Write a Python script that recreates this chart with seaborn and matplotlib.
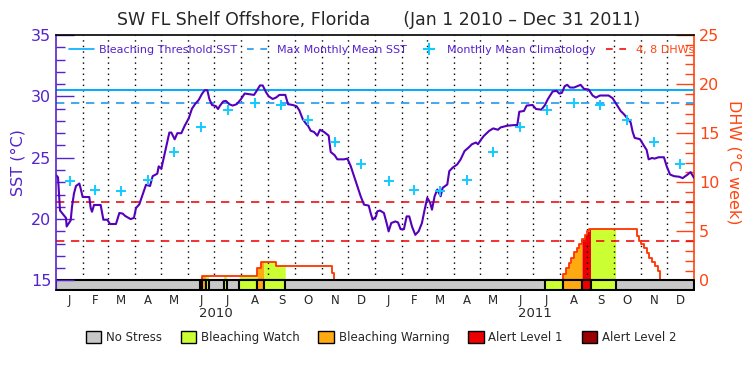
import matplotlib.pyplot as plt
from matplotlib.lines import Line2D
from matplotlib.patches import Patch
import seaborn as sns
import numpy as np
import pandas as pd

# days since Jan 1 2010 and daily SST (deg C)
sst_day = [0, 2.3, 4.6, 11.4, 12.2, 16.8, 18.3, 20.6, 22.9, 26.7, 28.2, 30.5, 38.1, 39.7, 41.2,
           43.5, 51.1, 54.2, 58.7, 61.8, 68.6, 72.5, 76.3, 79.3, 85.4, 89.2, 91.5, 95.3, 98.4,
           103, 107.6, 110.6, 115.9, 117.5, 120.5, 123.6, 127.4, 129.7, 132, 135.8, 138.8, 143.4,
           147.2, 151.8, 155.6, 159.4, 163.2, 167, 170.1, 173.2, 175.4, 178.5, 183,
           185.4, 187.7, 191.5, 194.5, 198.3, 202.2, 206.7, 211.3, 215.9, 221.2, 226.6, 229.6,
           233.4, 236.5, 240.3, 243.3, 247.9, 251.7, 255.6, 262.4, 265.5, 270.8, 275.4, 278.4,
           282.3, 286.1, 288.4, 291.4, 295.2, 299, 302.1, 306.7, 312, 314.3, 318.9, 321.9, 329.5,
           333.4, 337.2, 341, 344.8, 348.6, 352.4, 357.8, 360, 362.3, 366.2,
           367.6, 370.7, 375.2, 378.3, 380.6, 383.6, 388.2, 391.3, 394.3, 398.1, 401.2, 404.2,
           407.3, 411.1, 414.9, 418.7, 421.8, 424.8, 427.9, 430.2, 433.2, 436.3, 440.1, 442.4,
           447.7, 450, 453.8, 459.1, 463, 467.5, 472.1, 475.9, 480.5, 482.8, 486.6, 489.7, 495.8,
           500.3, 505.7, 508.7, 516.4, 524, 527.8, 530.1, 535.4, 538.5, 545.3, 549.2,
           555.3, 559.1, 562.9, 568.3, 572.8, 575.9, 578.9, 582, 585, 588.1, 592.7, 596.5, 600.3,
           604.1, 609.4, 614, 617.8, 622.4, 632.3, 636.9, 642.2, 646.1, 649.9, 653.7, 657.5,
           659.8, 662.1, 668.2, 672.8, 675.8, 678.1, 681.9, 685, 689.5, 695.6, 698.7, 702.5,
           707.1, 713.2, 717, 722.3, 726.1, 729.9]
sst_val = [23.6, 23.4, 20.7, 20.1, 19.4, 19.9, 21.0, 22.1, 22.7, 22.9, 22.5, 21.8, 21.8, 20.9, 20.6,
           21.15, 21.15, 19.95, 19.95, 19.6, 19.6, 20.5, 20.45, 20.25, 20.0, 20.1, 20.9, 21.2, 21.85,
           22.8, 22.7, 23.5, 23.7, 24.3, 24.1, 25.1, 26.3, 27.05, 27.05, 26.5, 27.0, 27.0,
           27.6, 28.2, 29.0, 29.4, 29.7, 30.2, 30.5, 30.5, 29.8, 29.3, 29.2,
           28.97, 29.25, 29.6, 29.63, 29.36, 29.25, 29.36, 29.74, 30.23, 30.18, 30.12, 30.45,
           30.89, 30.89, 30.34, 30.01, 29.79, 29.9, 30.12, 30.12, 29.36, 29.3, 29.19, 28.86,
           28.15, 27.77, 27.6, 27.2, 27.1, 26.8, 27.28, 27.1, 26.8, 25.47, 25.2, 24.87, 24.87,
           24.93, 24.32, 23.5, 22.68, 21.86, 21.18, 21.1, 20.5, 19.95, 20.22,
           20.63, 20.7, 20.5, 19.68, 19.0, 19.68, 19.81, 19.73, 19.18, 19.18, 20.22, 20.22,
           19.4, 18.72, 19.0, 19.68, 20.77, 21.73, 21.37, 20.77, 21.86, 22.41, 21.86, 22.55,
           22.82, 23.91, 24.19, 24.46, 24.87, 25.55, 25.83, 26.1, 26.24, 26.1, 26.51, 26.79, 27.2,
           27.39, 27.28, 27.47, 27.61, 27.66, 27.66, 28.75, 28.81, 29.25, 29.3, 28.97,
           28.92, 29.25, 29.79, 30.4, 30.45, 30.23, 30.29, 30.83, 30.94, 30.72, 30.72, 30.83, 30.94,
           30.61, 30.56, 30.07, 29.9, 30.07, 30.07, 29.85, 29.25, 28.81, 28.54, 28.21, 27.88,
           27.11, 26.62, 26.51, 25.97, 25.64, 24.87, 24.98, 24.93, 25.04, 25.04, 24.32, 23.64,
           23.5, 23.45, 23.34, 23.61, 23.83, 23.37]

# monthly mean climatology (same for both years)
clim_sst = [23.07, 22.37, 22.26, 23.2, 25.47, 27.47, 28.9, 29.43, 29.27, 28.07, 26.28, 24.49]
mmm = 29.5
threshold = 30.5
dhw_levels = [4, 8]

# degree heating weeks, step values starting at each day
dhw_day = [0, 167, 229.6, 234.2, 251.7, 315.3, 318.3,
           580.5, 583.5, 586.5, 589.6, 592.6, 595.7, 598.7, 601.8, 604.8, 607.9, 610.2,
           665.1, 667.4, 669.7, 672.7, 675.8, 678.8, 681.9, 684.9, 688.8, 691.1, 730]
dhw_val = [0, 0.48, 1.23, 1.9, 1.45, 0.75, 0,
           0.71, 1.3, 1.77, 2.32, 2.87, 3.35, 3.69, 4.23, 4.64, 4.99, 5.23,
           4.58, 4.03, 3.69, 3.28, 2.8, 2.32, 1.9, 1.5, 0.96, 0, 0]

# stress level periods (1 watch, 2 warning, 3 alert 1, 4 alert 2)
stress_start = [164.8, 167.0, 172.2, 192.2, 209.7, 230.3, 238.0, 559.9, 580.5, 601.8, 611.7]
stress_end = [167.0, 172.2, 174.7, 195.3, 230.3, 238.0, 262.4, 580.5, 601.8, 611.7, 640.7]
stress_level = [1, 2, 1, 1, 1, 2, 1, 1, 2, 3, 1]

stress_names = ['No Stress', 'Bleaching Watch', 'Bleaching Warning', 'Alert Level 1', 'Alert Level 2']
stress_colors = ['#c8c8c8', '#ccff33', '#ffaa11', '#ee0000', '#990000']

purple = '#5522cc'
orange = '#ff4411'

months = pd.date_range('2010-01-01', '2012-01-01', freq='MS')
month_day = np.array((months - months[0]).days)
month_mid = (month_day[:-1] + month_day[1:]) / 2
month_letters = [m.strftime('%b')[0] for m in months[:-1]]

sns.set_style('white')
plt.rcParams['font.family'] = ['DejaVu Sans']

fig = plt.figure(figsize=(7.5, 3.75), dpi=100)
ax = fig.add_axes([56 / 750, 1 - 290.3 / 375, 638 / 750, 255.3 / 375])
ax2 = ax.twinx()
ax.set_zorder(ax2.get_zorder() + 1)
ax.patch.set_visible(False)

# DHW side: fills, outline, stress bar
grid = np.arange(0, 730.01, 0.1)
idx = np.searchsorted(dhw_day, grid, side='right') - 1
grid_dhw = np.array(dhw_val)[idx]
for s, e, lev in zip(stress_start, stress_end, stress_level):
    ax2.fill_between(grid, 0, grid_dhw, where=(grid >= s) & (grid <= e),
                     color=stress_colors[lev], lw=0, zorder=1)
ax2.step(dhw_day, dhw_val, where='post', color='#ff3300', lw=1.3, zorder=3)
ax2.vlines(month_day[1:-1], 0, 25, colors='k', linestyles=(0, (1, 3)), lw=1, zorder=2)
for lev in dhw_levels:
    ax2.axhline(lev, color='#ee1111', ls=(0, (5, 4)), lw=1.2, zorder=2)
ax2.broken_barh([(0, 730)], (-1, 1), facecolors=stress_colors[0], edgecolor='k', lw=1.5, zorder=4)
for s, e, lev in zip(stress_start, stress_end, stress_level):
    ax2.broken_barh([(s, e - s)], (-1, 1), facecolors=stress_colors[lev],
                    edgecolor='k', lw=1.5, zorder=4)

# SST side
ax.axhline(threshold, color='#00aaff', lw=1.4)
ax.axhline(mmm, color='#2299ee', ls=(0, (5, 4)), lw=1.2)
sns.lineplot(x=sst_day, y=sst_val, ax=ax, color='#5500bb', lw=1.5, sort=False, estimator=None)
sns.scatterplot(x=month_mid.tolist(), y=clim_sst * 2, ax=ax, marker='+', s=50,
                color='#11ccff', linewidth=1.4, zorder=5)

ax.set_xlim(0, 730)
ax.set_ylim(14.2, 35)
ax2.set_ylim(-1, 25)

ax.set_yticks([15, 20, 25, 30, 35])
ax.set_yticks(np.arange(15, 36), minor=True)
ax.tick_params(axis='y', which='major', direction='in', length=13, width=1, colors=purple,
               labelsize=11.5, left=True)
ax.tick_params(axis='y', which='minor', direction='in', length=6.5, width=1, colors=purple, left=True)
ax2.set_yticks([0, 5, 10, 15, 20, 25])
ax2.set_yticks(np.arange(0, 26), minor=True)
ax2.tick_params(axis='y', which='major', direction='in', length=13, width=1, colors=orange,
                labelsize=11.5, right=True)
ax2.tick_params(axis='y', which='minor', direction='in', length=6.5, width=1, colors=orange, right=True)
ax.set_xticks(month_mid)
ax.set_xticklabels(month_letters)
ax.tick_params(axis='x', length=0, labelsize=8.5, pad=3)

for sp in ['left', 'top', 'bottom', 'right']:
    ax.spines[sp].set_linewidth(1.2)
    ax2.spines[sp].set_linewidth(1.2)
ax.spines['left'].set_color(purple)
ax.spines['top'].set_color('k')
ax.spines['bottom'].set_color('k')
ax.spines['right'].set_visible(False)
for sp in ['left', 'top', 'bottom']:
    ax2.spines[sp].set_visible(False)
ax2.spines['right'].set_color(orange)

ax.set_ylabel('SST (°C)', color=purple, fontsize=11.5, labelpad=4)
ax.set_xlabel('')
ax2.set_ylabel('DHW (°C week)', color=orange, fontsize=11.5, rotation=270, va='bottom', labelpad=5)

for yr, x in zip(['2010', '2011'], [182.5, 547.5]):
    ax.text(x, -0.09, yr, transform=ax.get_xaxis_transform(), ha='center', va='center', fontsize=9.5)

fig.text(0.505, 0.947, 'SW FL Shelf Offshore, Florida      (Jan 1 2010 – Dec 31 2011)',
         ha='center', va='center', fontsize=12.5)

top_handles = [Line2D([], [], color='#00aaff', lw=1.2),
               Line2D([], [], color='#2299ee', lw=1.2, ls=(0, (4, 4))),
               Line2D([], [], color='#11ccff', marker='+', ls='none', ms=8, mew=1.5),
               Line2D([], [], color='#ee1111', lw=1.2, ls=(0, (4, 4)))]
top_labels = ['Bleaching Threshold SST', 'Max Monthly Mean SST', 'Monthly Mean Climatology', '4, 8 DHWs']
leg = ax.legend(top_handles, top_labels, loc='upper left', bbox_to_anchor=(0.005, 1.0), ncol=4,
                frameon=False, fontsize=8, handlelength=2.2, handletextpad=0.5, columnspacing=0.9)
for t, c in zip(leg.get_texts(), [purple, purple, purple, orange]):
    t.set_color(c)

bottom_handles = [Patch(facecolor=c, edgecolor='k', lw=1) for c in stress_colors]
fig.legend(bottom_handles, stress_names, loc='center', bbox_to_anchor=(0.508, 0.099), ncol=5,
           frameon=False, fontsize=8.5, handlelength=1.3, handleheight=1.2, columnspacing=1.6,
           handletextpad=0.4)

fig.savefig('out.png', dpi=100)
